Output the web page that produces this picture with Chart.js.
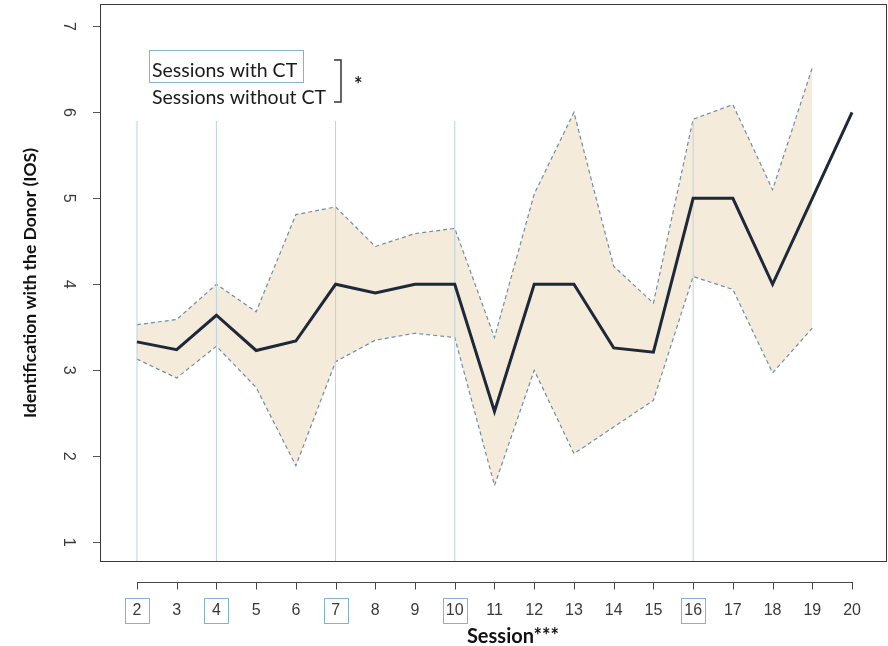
<!DOCTYPE html>
<html>
<head>
<meta charset="utf-8">
<script src="https://cdn.jsdelivr.net/npm/chart.js@4.4.0/dist/chart.umd.min.js"></script>
<style>
  html, body { margin: 0; padding: 0; background: #fff; }
  #wrap { width: 888px; height: 646px; position: relative; }
</style>
</head>
<body>
<div id="wrap"><canvas id="iosChart"></canvas></div>
<script>
// sessions on the x axis
const sessions = [2, 3, 4, 5, 6, 7, 8, 9, 10, 11, 12, 13, 14, 15, 16, 17, 18, 19, 20];
// mean IOS per session
const meanIOS = [3.33, 3.24, 3.64, 3.23, 3.34, 4.0, 3.9, 4.0, 4.0, 2.52, 4.0, 4.0, 3.26, 3.21, 5.0, 5.0, 4.0, 5.0, 6.0];
// band (sessions 2..19, none for 20)
const upperIOS = [3.53, 3.59, 4.0, 3.68, 4.81, 4.9, 4.44, 4.59, 4.65, 3.38, 5.05, 6.0, 4.21, 3.78, 5.92, 6.09, 5.1, 6.52];
const lowerIOS = [3.13, 2.91, 3.28, 2.8, 1.89, 3.1, 3.35, 3.43, 3.38, 1.66, 3.0, 2.03, 2.34, 2.65, 4.09, 3.94, 2.97, 3.49];
// sessions with CT (marked with a line and a boxed label)
const ctSessions = [2, 4, 7, 10, 16];
const ctLineTop = 5.9;
const yTicks = [1, 2, 3, 4, 5, 6, 7];

const legendLabels = ["Sessions with CT", "Sessions without CT"];
const xTitle = "Session***";
const yTitle = "Identification with the Donor (IOS)";

const toPts = (vals) => vals.map((v, i) => ({ x: sessions[i], y: v }));

const bandStyle = {
  borderColor: "#6f8ea3",
  borderWidth: 1.2,
  borderDash: [4, 3],
  pointRadius: 0,
  tension: 0,
  order: 3
};

const datasets = [
  { ...bandStyle, label: "upper", data: toPts(upperIOS), fill: "+1", backgroundColor: "#f5ebda" },
  { ...bandStyle, label: "lower", data: toPts(lowerIOS), fill: false }
];

ctSessions.forEach((s) => {
  datasets.push({
    label: "CT " + s,
    data: [{ x: s, y: 0.77 }, { x: s, y: ctLineTop }],
    borderColor: "#b9d3e0",
    borderWidth: 1,
    pointRadius: 0,
    fill: false,
    order: 2
  });
});

datasets.push({
  label: "mean",
  data: toPts(meanIOS),
  borderColor: "#1d2839",
  borderWidth: 3,
  pointRadius: 0,
  tension: 0,
  fill: false,
  order: 1
});

// box, detached x axis, boxed labels, legend
const decor = {
  id: "decor",
  afterDraw(chart) {
    const ctx = chart.ctx;
    const a = chart.chartArea;
    const xs = chart.scales.x;
    ctx.save();

    ctx.strokeStyle = "#3a3a3a";
    ctx.lineWidth = 1;
    ctx.strokeRect(a.left + 0.5, a.top + 0.5, a.right - a.left - 1, a.bottom - a.top - 1);

    // x axis line + ticks
    const axisY = a.bottom + 20.5;
    const first = xs.getPixelForValue(sessions[0]);
    const last = xs.getPixelForValue(sessions[sessions.length - 1]);
    ctx.strokeStyle = "#444";
    ctx.beginPath();
    ctx.moveTo(Math.round(first), axisY);
    ctx.lineTo(Math.round(last) + 1, axisY);
    sessions.forEach((s) => {
      const px = Math.round(xs.getPixelForValue(s)) + 0.5;
      ctx.moveTo(px, axisY);
      ctx.lineTo(px, axisY + 7);
    });
    ctx.stroke();

    // boxes round the CT session labels
    ctx.strokeStyle = "#82b3cf";
    ctSessions.forEach((s) => {
      const px = xs.getPixelForValue(s);
      ctx.strokeRect(Math.round(px - 12) + 0.5, 598.5, 24, 25);
    });

    // x title
    ctx.fillStyle = "#111";
    ctx.font = "bold 20px Lato";
    ctx.textAlign = "center";
    ctx.textBaseline = "alphabetic";
    ctx.fillText(xTitle, 513, 643);

    // legend
    ctx.font = "19.5px Lato";
    ctx.textAlign = "left";
    ctx.fillStyle = "#1a1a1a";
    ctx.fillText(legendLabels[0], 152, 77);
    ctx.fillText(legendLabels[1], 152, 104);
    ctx.strokeStyle = "#82b3cf";
    ctx.lineWidth = 1;
    ctx.strokeRect(149.5, 50.5, 154, 32);

    ctx.strokeStyle = "#333";
    ctx.lineWidth = 1.5;
    ctx.beginPath();
    ctx.moveTo(334, 60);
    ctx.lineTo(341, 60);
    ctx.lineTo(341, 102);
    ctx.lineTo(334, 102);
    ctx.stroke();
    ctx.font = "bold 20px Lato";
    ctx.fillText("*", 354, 92);

    ctx.restore();
  }
};

new Chart(document.getElementById("iosChart"), {
  type: "line",
  data: { datasets: datasets },
  plugins: [decor],
  options: {
    responsive: true,
    maintainAspectRatio: false,
    animation: false,
    events: [],
    layout: { padding: { top: 4, right: 1, left: 0, bottom: 0 } },
    plugins: {
      legend: { display: false },
      tooltip: { enabled: false },
      filler: { drawTime: "beforeDatasetsDraw" }
    },
    scales: {
      x: {
        type: "linear",
        min: 1.07,
        max: 20.88,
        afterBuildTicks: (s) => { s.ticks = sessions.map((v) => ({ value: v })); },
        afterFit: (s) => {
          s.height = 84;
          s.paddingLeft = 0;
          s.paddingRight = 0;
        },
        grid: { display: false, drawTicks: false },
        border: { display: false },
        ticks: {
          autoSkip: false,
          maxRotation: 0,
          padding: 39,
          color: "#3a3a3a",
          font: { family: "Liberation Sans", size: 16 }
        }
      },
      y: {
        type: "linear",
        min: 0.77,
        max: 7.26,
        afterBuildTicks: (s) => { s.ticks = yTicks.map((v) => ({ value: v })); },
        afterFit: (s) => {
          s.width = 100;
          s.paddingTop = 0;
          s.paddingBottom = 0;
        },
        grid: { drawOnChartArea: false, tickLength: 7, color: "#555" },
        border: { display: false },
        ticks: {
          minRotation: -90,
          crossAlign: "center",
          padding: 20,
          color: "#3a3a3a",
          font: { family: "Liberation Sans", size: 16 }
        },
        title: {
          display: true,
          text: yTitle,
          color: "#111",
          font: { family: "Lato", weight: "bold", size: 17.5 },
          padding: { top: 20 }
        }
      }
    }
  }
});
</script>
</body>
</html>
